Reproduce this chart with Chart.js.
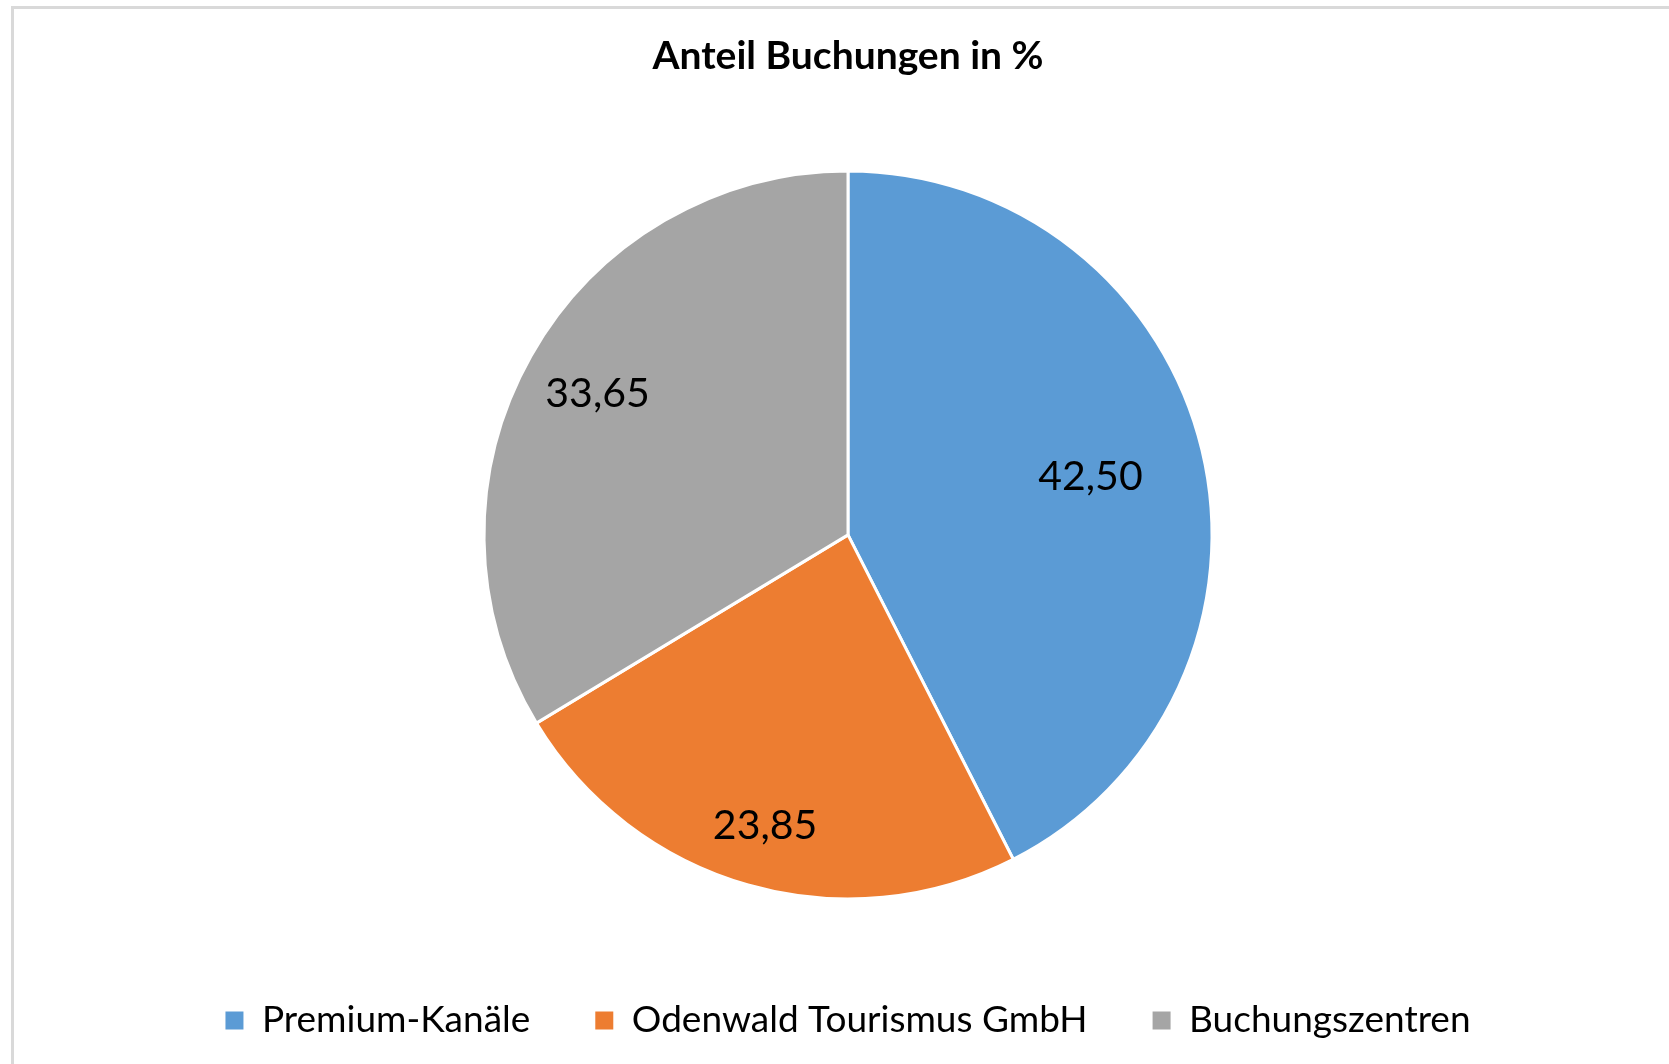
<!DOCTYPE html>
<html>
<head>
<meta charset="utf-8">
<script src="https://cdn.jsdelivr.net/npm/chart.js@4"></script>
<style>
  html, body { margin: 0; padding: 0; background: #ffffff; overflow: hidden; }
  #frame { position: absolute; left: 11px; top: 6px; width: 1700px; height: 1100px;
           border-left: 3px solid #d9d9d9; border-top: 3px solid #d9d9d9; }
  #c { position: absolute; left: 0; top: 0; }
</style>
</head>
<body>
<div id="frame"></div>
<canvas id="c" width="1669" height="1064"></canvas>
<script>
const chartTitle = 'Anteil Buchungen in %';
const categories = ['Premium-Kanäle', 'Odenwald Tourismus GmbH', 'Buchungszentren'];
const shares = [42.50, 23.85, 33.65];
const sliceColors = ['#5B9BD5', '#ED7D31', '#A5A5A5'];

const valueLabels = {
  id: 'valueLabels',
  afterDatasetsDraw(chart, args, opts) {
    const ctx = chart.ctx;
    const meta = chart.getDatasetMeta(0);
    ctx.save();
    ctx.font = opts.font;
    ctx.fillStyle = opts.color;
    ctx.textAlign = 'center';
    ctx.textBaseline = 'middle';
    meta.data.forEach((arc, i) => {
      const p = arc.getProps(['x', 'y', 'startAngle', 'endAngle', 'outerRadius'], true);
      const mid = (p.startAngle + p.endAngle) / 2;
      const r = p.outerRadius * opts.radial[i];
      const v = chart.data.datasets[0].data[i];
      ctx.fillText(v.toFixed(2).replace('.', ','), p.x + Math.cos(mid) * r, p.y + Math.sin(mid) * r);
    });
    ctx.restore();
  }
};

new Chart(document.getElementById('c'), {
  type: 'pie',
  data: {
    labels: categories,
    datasets: [{
      data: shares,
      backgroundColor: sliceColors,
      borderColor: '#ffffff',
      borderWidth: 3,
      radius: 364
    }]
  },
  plugins: [valueLabels],
  options: {
    responsive: false,
    animation: false,
    devicePixelRatio: 1,
    layout: { padding: { left: 27, right: 0, top: 0, bottom: 15 } },
    plugins: {
      tooltip: { enabled: false },
      title: {
        display: true,
        text: chartTitle,
        color: '#000000',
        font: { family: 'Lato', size: 39, weight: 'bold', lineHeight: 1.2 },
        padding: { top: 33, bottom: 53 }
      },
      legend: {
        position: 'bottom',
        labels: {
          color: '#000000',
          font: { family: 'Lato', size: 37 },
          boxWidth: 18,
          boxHeight: 18,
          padding: 65,
          generateLabels: (chart) => Chart.overrides.pie.plugins.legend.labels.generateLabels(chart)
            .map(l => Object.assign(l, { lineWidth: 0, strokeStyle: 'rgba(0,0,0,0)' }))
        }
      },
      valueLabels: {
        font: '41px Lato',
        color: '#000000',
        radial: [0.685, 0.83, 0.79]
      }
    }
  }
});
</script>
</body>
</html>
